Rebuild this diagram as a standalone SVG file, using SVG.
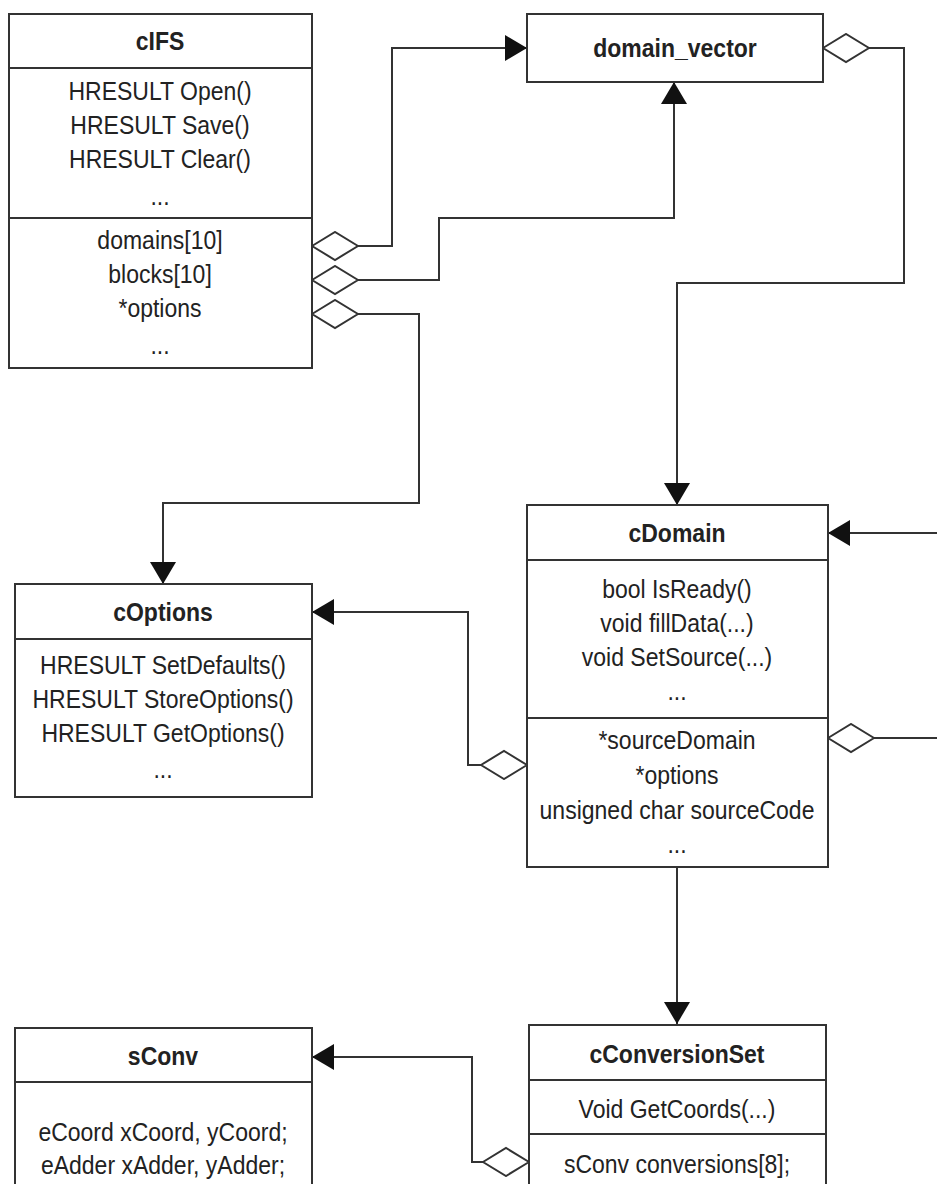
<svg xmlns="http://www.w3.org/2000/svg" width="937" height="1184" viewBox="0 0 937 1184">
<style>
.box{fill:#fff;stroke:#333;stroke-width:2}
.div{stroke:#333;stroke-width:2}
.t{font-family:"Liberation Sans",Arial,sans-serif;font-size:25px;fill:#222;text-anchor:middle}
.h{font-weight:bold}
.c{fill:none;stroke:#333;stroke-width:2}
</style>
<defs>
<marker id="arrow" markerUnits="userSpaceOnUse" markerWidth="24" markerHeight="28" refX="22" refY="13" orient="auto">
<path d="M0,0 L22,13 L0,26 z" fill="#111"/>
</marker>
<marker id="dia" markerUnits="userSpaceOnUse" markerWidth="48" markerHeight="32" refX="1" refY="15" orient="auto">
<polygon points="1,15 24,1 47,15 24,29" fill="#fff" stroke="#333" stroke-width="2"/>
</marker>
</defs>
<g id="connectors">
<path class="c" d="M312,246 H392 V48 H527" marker-start="url(#dia)" marker-end="url(#arrow)"/>
<path class="c" d="M312,280 H439 V218 H674 V82" marker-start="url(#dia)" marker-end="url(#arrow)"/>
<path class="c" d="M312,314 H419 V503 H163 V584" marker-start="url(#dia)" marker-end="url(#arrow)"/>
<path class="c" d="M823,48 H904 V283 H677 V505" marker-start="url(#dia)" marker-end="url(#arrow)"/>
<path class="c" d="M527,765 H468 V612 H312" marker-start="url(#dia)" marker-end="url(#arrow)"/>
<path class="c" d="M937,533 H828" marker-end="url(#arrow)"/>
<path class="c" d="M828,738 H937" marker-start="url(#dia)"/>
<path class="c" d="M677,867 V1024" marker-end="url(#arrow)"/>
<path class="c" d="M529,1162 H472 V1057 H312" marker-start="url(#dia)" marker-end="url(#arrow)"/>
</g>
<g id="cIFS">
<rect class="box" x="9" y="14" width="303" height="354"/>
<line class="div" x1="9" y1="68" x2="312" y2="68"/>
<line class="div" x1="9" y1="218" x2="312" y2="218"/>
<g transform="translate(160,0) scale(0.92,1)">
<text class="t h" x="0" y="50">cIFS</text>
<text class="t" x="0" y="100">HRESULT Open()</text>
<text class="t" x="0" y="134">HRESULT Save()</text>
<text class="t" x="0" y="168">HRESULT Clear()</text>
<text class="t" x="0" y="205">...</text>
<text class="t" x="0" y="249">domains[10]</text>
<text class="t" x="0" y="283">blocks[10]</text>
<text class="t" x="0" y="317">*options</text>
<text class="t" x="0" y="354">...</text>
</g>
</g>
<g id="domain_vector">
<rect class="box" x="527" y="14" width="296" height="68"/>
<g transform="translate(675,0) scale(0.92,1)">
<text class="t h" x="0" y="57">domain_vector</text>
</g>
</g>
<g id="cOptions">
<rect class="box" x="15" y="584" width="297" height="213"/>
<line class="div" x1="15" y1="639" x2="312" y2="639"/>
<g transform="translate(163,0) scale(0.92,1)">
<text class="t h" x="0" y="621">cOptions</text>
<text class="t" x="0" y="674">HRESULT SetDefaults()</text>
<text class="t" x="0" y="708">HRESULT StoreOptions()</text>
<text class="t" x="0" y="742">HRESULT GetOptions()</text>
<text class="t" x="0" y="778">...</text>
</g>
</g>
<g id="cDomain">
<rect class="box" x="527" y="505" width="301" height="362"/>
<line class="div" x1="527" y1="560" x2="828" y2="560"/>
<line class="div" x1="527" y1="718" x2="828" y2="718"/>
<g transform="translate(677,0) scale(0.92,1)">
<text class="t h" x="0" y="542">cDomain</text>
<text class="t" x="0" y="598">bool IsReady()</text>
<text class="t" x="0" y="632">void fillData(...)</text>
<text class="t" x="0" y="666">void SetSource(...)</text>
<text class="t" x="0" y="700">...</text>
<text class="t" x="0" y="749">*sourceDomain</text>
<text class="t" x="0" y="784">*options</text>
<text class="t" x="0" y="819">unsigned char sourceCode</text>
<text class="t" x="0" y="853">...</text>
</g>
</g>
<g id="sConv">
<rect class="box" x="15" y="1028" width="297" height="170"/>
<line class="div" x1="15" y1="1082" x2="312" y2="1082"/>
<g transform="translate(163,0) scale(0.92,1)">
<text class="t h" x="0" y="1065">sConv</text>
<text class="t" x="0" y="1141">eCoord xCoord, yCoord;</text>
<text class="t" x="0" y="1174">eAdder xAdder, yAdder;</text>
</g>
</g>
<g id="cConversionSet">
<rect class="box" x="529" y="1025" width="297" height="175"/>
<line class="div" x1="529" y1="1080" x2="826" y2="1080"/>
<line class="div" x1="529" y1="1134" x2="826" y2="1134"/>
<g transform="translate(677,0) scale(0.92,1)">
<text class="t h" x="0" y="1063">cConversionSet</text>
<text class="t" x="0" y="1118">Void GetCoords(...)</text>
<text class="t" x="0" y="1173">sConv conversions[8];</text>
</g>
</g>
</svg>
